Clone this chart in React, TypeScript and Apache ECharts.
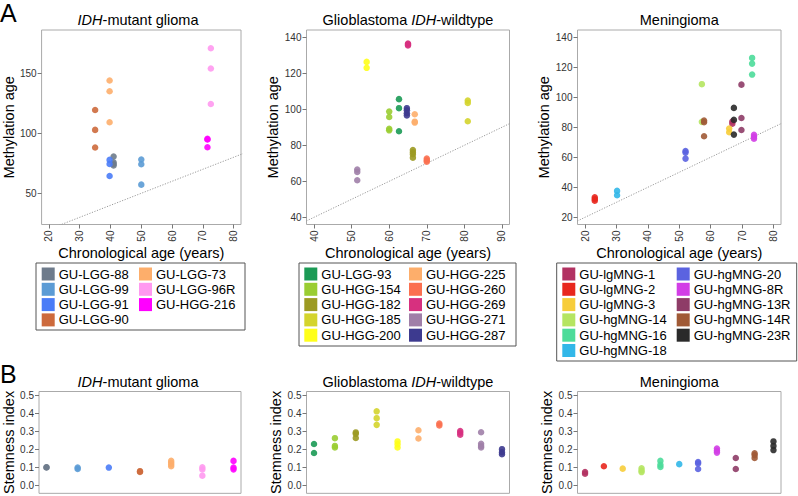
import React, { useEffect, useRef } from "react";
import * as echarts from "echarts";

const FONT = "'Liberation Sans', Arial, Helvetica, sans-serif";

// ---------- IDH-mutant glioma ----------
const idhNames = ["GU-LGG-88", "GU-LGG-99", "GU-LGG-91", "GU-LGG-90", "GU-LGG-73", "GU-LGG-96R", "GU-HGG-216"];
const idhColors = ["#6e7b8b", "#5b9bd5", "#4a7cf7", "#cd6a3c", "#fdae6b", "#ff99f0", "#ff00ff"];
const idhChronAge = [41, 50, 39.7, 35, 39.7, 72.6, 71.5];
const idhMethAge = [
  [80.6, 75.8, 74.4, 73.1],
  [78.1, 74.2, 57.2],
  [77.8, 74.4, 64.4],
  [119.4, 102.8, 88.1],
  [143.9, 135, 109.2],
  [170.8, 153.9, 124.4],
  [95.3, 94.8, 88.3],
];
const idhStemness = [
  [0.1, 0.099],
  [0.098, 0.09],
  [0.098],
  [0.078, 0.074],
  [0.135, 0.125, 0.115, 0.105],
  [0.099, 0.087, 0.053],
  [0.135, 0.098, 0.088],
];

// ---------- Glioblastoma IDH-wildtype ----------
const gbmNames = ["GU-LGG-93", "GU-HGG-154", "GU-HGG-182", "GU-HGG-185", "GU-HGG-200", "GU-HGG-225", "GU-HGG-260", "GU-HGG-269", "GU-HGG-271", "GU-HGG-287"];
const gbmColors = ["#1b9a55", "#9acd32", "#9c9a22", "#d4d42c", "#ffff1a", "#fdae6b", "#fb7050", "#d7307f", "#a07fa8", "#3d3a8f"];
const gbmChronAge = [62.6, 60, 66.3, 80.9, 54, 66.8, 70, 65, 51.5, 64.7];
const gbmMethAge = [
  [105.6, 100.6, 87.8],
  [98.7, 95.7, 89.1, 88.3],
  [77.4, 76.1, 75, 73.1],
  [104.8, 103.5, 93.3],
  [126.3, 123],
  [97.2, 93.1, 92.6],
  [72.6, 71.7, 70.9],
  [136.5, 136, 135.4],
  [66.5, 65.2, 60.6],
  [100.6, 99.4, 97.8, 96.5],
];
const gbmStemness = [
  [0.229, 0.179],
  [0.261, 0.218, 0.209],
  [0.293, 0.285, 0.262],
  [0.41, 0.372, 0.335],
  [0.243, 0.227, 0.209],
  [0.305, 0.259],
  [0.342, 0.332],
  [0.301, 0.291, 0.28],
  [0.294, 0.23, 0.218, 0.209],
  [0.2, 0.183, 0.172],
];

// ---------- Meningioma ----------
const mngNames = ["GU-lgMNG-1", "GU-lgMNG-2", "GU-lgMNG-3", "GU-hgMNG-14", "GU-hgMNG-16", "GU-hgMNG-18", "GU-hgMNG-20", "GU-hgMNG-8R", "GU-hgMNG-13R", "GU-hgMNG-14R", "GU-hgMNG-23R"];
const mngColors = ["#b23262", "#e8271e", "#f7cd3a", "#b5e561", "#4ddc9a", "#32b7e8", "#5b63e0", "#d23ee6", "#8e3c67", "#a05a36", "#2a2a2a"];
const mngChronAge = [66.9, 23.1, 65.9, 57.2, 73.2, 30.2, 52, 73.8, 69.8, 57.9, 67.4];
const mngMethAge = [
  [83.8, 82.4],
  [33.3, 32.2, 31.1],
  [79.1, 76.7],
  [108.7, 83.6],
  [126.2, 122.4, 115.1],
  [37.6, 34.7],
  [64.2, 63.1, 59.1],
  [74.9, 73.6, 72.4],
  [108.4, 86.2, 78.2],
  [84.4, 83.3, 74],
  [92.9, 84.9, 75.1],
];
const mngStemness = [
  [0.073, 0.064],
  [0.105],
  [0.092],
  [0.094, 0.082, 0.073],
  [0.135, 0.113, 0.101],
  [0.117],
  [0.129, 0.121, 0.09],
  [0.204, 0.191, 0.181],
  [0.151, 0.09],
  [0.177, 0.167, 0.151],
  [0.243, 0.218, 0.195],
];

// ---------- axes ----------
const panelTitles = ["{i|IDH}-mutant glioma", "Glioblastoma {i|IDH}-wildtype", "Meningioma"];
const xTicksA = [
  [20, 30, 40, 50, 60, 70, 80],
  [40, 50, 60, 70, 80, 90],
  [20, 30, 40, 50, 60, 70, 80],
];
const yTicksA = [
  [50, 100, 150],
  [40, 60, 80, 100, 120, 140],
  [20, 40, 60, 80, 100, 120, 140],
];
const xRangeA = [[17.6, 82.4], [38, 92], [17.6, 82.4]];
const yRangeA = [[24, 186], [36, 144], [15.2, 144.8]];
const yTicksB = [0, 0.1, 0.2, 0.3, 0.4, 0.5];
const yRangeB = [-0.045, 0.52];

const groups = [
  { names: idhNames, colors: idhColors, chron: idhChronAge, meth: idhMethAge, stem: idhStemness, split: 4 },
  { names: gbmNames, colors: gbmColors, chron: gbmChronAge, meth: gbmMethAge, stem: gbmStemness, split: 5 },
  { names: mngNames, colors: mngColors, chron: mngChronAge, meth: mngMethAge, stem: mngStemness, split: 6 },
];

// layout (pixels)
const gridLefts = [39, 306.5, 577.5];
const gridWidths = [202, 203, 203.5];
const gridTopA = 30;
const gridHeightA = 194.5;
const gridTopB = 391.5;
const gridHeightB = 106.3;
const legendCols = [[41.7, 139], [304.3, 409], [562.3, 676.7]];
const legendBoxes = [
  [36, 263, 209, 67],
  [299, 263, 217, 83],
  [556.7, 263, 240, 98],
];

function buildOption() {
  const grid: any[] = [];
  const xAxis: any[] = [];
  const yAxis: any[] = [];
  const series: any[] = [];
  const legend: any[] = [];
  const graphic: any[] = [];

  const tickStyle = { color: "#777", width: 1 };
  const labelStyle = { fontSize: 10, color: "#333", fontFamily: FONT };
  const nameStyle = { fontSize: 14.5, color: "#000", fontFamily: FONT };

  groups.forEach((g, k) => {
    grid.push({ left: gridLefts[k], top: gridTopA, width: gridWidths[k], height: gridHeightA, show: true, borderColor: "#aaaaaa", borderWidth: 1, containLabel: false });
    grid.push({ left: gridLefts[k], top: gridTopB, width: gridWidths[k], height: gridHeightB, show: true, borderColor: "#aaaaaa", borderWidth: 1, containLabel: false });
    const gA = 2 * k;
    const gB = 2 * k + 1;

    xAxis.push({
      type: "value", gridIndex: gA, min: xRangeA[k][0], max: xRangeA[k][1],
      axisLine: { show: false, onZero: false },
      axisTick: { show: true, length: 4, lineStyle: tickStyle, customValues: xTicksA[k] },
      axisLabel: { ...labelStyle, rotate: 90, margin: 6, customValues: xTicksA[k] },
      splitLine: { show: false },
      name: "Chronological age (years)", nameLocation: "middle", nameGap: 12, nameTextStyle: nameStyle,
    });
    yAxis.push({
      type: "value", gridIndex: gA, min: yRangeA[k][0], max: yRangeA[k][1],
      axisLine: { show: false, onZero: false },
      axisTick: { show: true, length: 4, lineStyle: tickStyle, customValues: yTicksA[k] },
      axisLabel: { ...labelStyle, margin: 5, customValues: yTicksA[k] },
      splitLine: { show: false },
      name: "Methylation age", nameLocation: "middle", nameGap: 21, nameTextStyle: nameStyle,
    });
    const n = g.names.length;
    const pad = (n - 1) * 0.04;
    xAxis.push({
      type: "value", gridIndex: gB, min: 1 - pad, max: n + pad,
      axisLine: { show: false, onZero: false },
      axisTick: { show: false }, axisLabel: { show: false }, splitLine: { show: false },
    });
    yAxis.push({
      type: "value", gridIndex: gB, min: yRangeB[0], max: yRangeB[1],
      axisLine: { show: false, onZero: false },
      axisTick: { show: true, length: 4, lineStyle: tickStyle, customValues: yTicksB },
      axisLabel: { ...labelStyle, margin: 5, customValues: yTicksB, formatter: (v: number) => v.toFixed(1) },
      splitLine: { show: false },
      name: "Stemness index", nameLocation: "middle", nameGap: 15, nameTextStyle: nameStyle,
    });

    // identity line y = x
    const lo = Math.min(xRangeA[k][0], yRangeA[k][0]);
    const hi = Math.max(xRangeA[k][1], yRangeA[k][1]);
    series.push({
      type: "line", xAxisIndex: gA, yAxisIndex: gA, data: [[lo, lo], [hi, hi]],
      symbol: "none", silent: true, clip: true,
      lineStyle: { color: "#9a9a9a", width: 1, type: [1.2, 1.5] }, z: 1,
    });

    g.names.forEach((name, i) => {
      series.push({
        type: "scatter", name, xAxisIndex: gA, yAxisIndex: gA,
        data: g.meth[i].map((v) => [g.chron[i], v]),
        symbol: "circle", symbolSize: 6.5, itemStyle: { color: g.colors[i], opacity: 0.9 }, z: 3,
      });
      series.push({
        type: "scatter", name, xAxisIndex: gB, yAxisIndex: gB,
        data: g.stem[i].map((v) => [i + 1, v]),
        symbol: "circle", symbolSize: 6.5, itemStyle: { color: g.colors[i], opacity: 0.9 }, z: 3,
      });
    });

    [g.names.slice(0, g.split), g.names.slice(g.split)].forEach((data, c) => {
      legend.push({
        data, orient: "vertical", left: legendCols[k][c], top: 267.5, padding: 0,
        itemWidth: 13, itemHeight: 13, itemGap: 2.3, icon: "rect", selectedMode: false,
        itemStyle: { opacity: 1 },
        textStyle: { fontSize: 13, color: "#000", fontFamily: FONT, padding: [0, 0, 0, -1] },
      });
    });
    const b = legendBoxes[k];
    graphic.push({ type: "rect", shape: { x: b[0], y: b[1], width: b[2], height: b[3] }, style: { fill: "none", stroke: "#555", lineWidth: 1 }, silent: true });

    const cx = gridLefts[k] + gridWidths[k] / 2 - (k === 0 ? 2 : 0);
    const rich = { i: { fontStyle: "italic", fontSize: 14.5, fontFamily: FONT, fill: "#000" } } as any;
    graphic.push({ type: "text", x: cx, y: 12.5, style: { text: panelTitles[k], fontSize: 14.5, fontFamily: FONT, fill: "#000", align: "center", verticalAlign: "top", rich }, silent: true });
    graphic.push({ type: "text", x: cx, y: 374.5, style: { text: panelTitles[k], fontSize: 14.5, fontFamily: FONT, fill: "#000", align: "center", verticalAlign: "top", rich }, silent: true });
  });

  graphic.push({ type: "text", x: 0, y: 0, style: { text: "A", fontSize: 25, fontFamily: FONT, fill: "#000", verticalAlign: "top" }, silent: true });
  graphic.push({ type: "text", x: 0, y: 361, style: { text: "B", fontSize: 25, fontFamily: FONT, fill: "#000", verticalAlign: "top" }, silent: true });

  return {
    animation: false,
    backgroundColor: "#ffffff",
    textStyle: { fontFamily: FONT },
    grid, xAxis, yAxis, series, legend, graphic,
  };
}

export default function App() {
  const ref = useRef<HTMLDivElement>(null);
  useEffect(() => {
    if (!ref.current) return;
    const chart = echarts.init(ref.current, undefined, { renderer: "svg" });
    chart.setOption(buildOption() as any);
    return () => chart.dispose();
  }, []);
  return <div ref={ref} style={{ position: "fixed", left: 0, top: 0, width: 798, height: 496 }} />;
}
